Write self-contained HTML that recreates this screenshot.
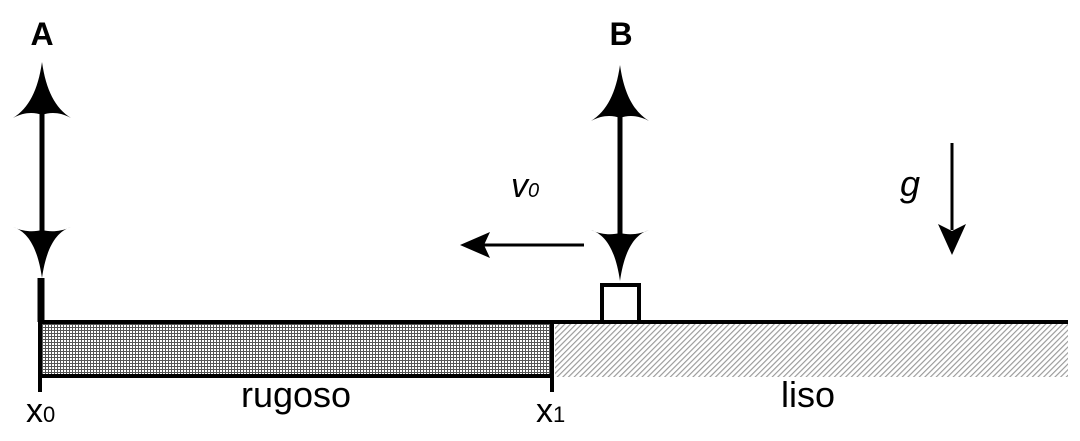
<!DOCTYPE html>
<html><head><meta charset="utf-8"><style>body{margin:0;background:#fff}svg{display:block}</style></head><body>
<svg width="1080" height="441" viewBox="0 0 1080 441" xmlns="http://www.w3.org/2000/svg">
<defs>
<pattern id="grid" width="3" height="3" patternUnits="userSpaceOnUse">
<rect width="3" height="3" fill="#fff"/>
<path d="M0 0.5H3M0.5 0V3" stroke="#555" stroke-width="1"/>
</pattern>
<pattern id="hatch" width="4" height="4" patternUnits="userSpaceOnUse" patternTransform="rotate(45)">
<rect width="4" height="4" fill="#fff"/>
<path d="M0.5 0V4" stroke="#999" stroke-width="1.3"/>
</pattern>
</defs>
<rect x="555" y="324" width="513" height="53" fill="url(#hatch)"/>
<rect x="40" y="324" width="512" height="52" fill="url(#grid)"/>
<path d="M38 322H1068" stroke="#000" stroke-width="4"/>
<path d="M38 376H552" stroke="#000" stroke-width="4"/>
<path d="M40 278V392" stroke="#000" stroke-width="4"/>
<path d="M41 278V322" stroke="#000" stroke-width="7"/>
<path d="M552 322V392" stroke="#000" stroke-width="4"/>
<g id="arrA">
<path d="M42 100V240" stroke="#000" stroke-width="5"/>
<path d="M42 62 C46 90 55 108 71 118 C60 112 50 112 42 115 C34 112 24 112 13 118 C29 108 38 90 42 62Z" fill="#000"/>
<path d="M42 278 C46 250 55 232 71 227 C60 232 50 232 42 230 C34 232 24 232 13 227 C29 232 38 250 42 278Z" fill="#000"/>
</g>
<use href="#arrA" transform="translate(578,3)"/>
<rect x="602" y="285" width="37" height="37" fill="#fff" stroke="#000" stroke-width="4"/>
<path d="M584 245H480" stroke="#000" stroke-width="3"/>
<path d="M460 245L490 232L484 245L490 258Z" fill="#000"/>
<path d="M952 143V230" stroke="#000" stroke-width="3"/>
<path d="M952 255L938 224L952 231L966 224Z" fill="#000"/>
<g font-family="Liberation Sans, sans-serif" fill="#000">
<text x="42" y="45" font-size="32" font-weight="bold" text-anchor="middle">A</text>
<text x="621" y="45" font-size="32" font-weight="bold" text-anchor="middle">B</text>
<text x="511" y="197" font-size="34" font-style="italic">v<tspan font-size="20">0</tspan></text>
<text x="900" y="196" font-size="36" font-style="italic">g</text>
<text x="26" y="422" font-size="34">x<tspan font-size="22">0</tspan></text>
<text x="296" y="407" font-size="36" text-anchor="middle">rugoso</text>
<text x="536" y="422" font-size="34">x<tspan font-size="22">1</tspan></text>
<text x="808" y="407" font-size="36" text-anchor="middle">liso</text>
</g>
</svg>
</body></html>
